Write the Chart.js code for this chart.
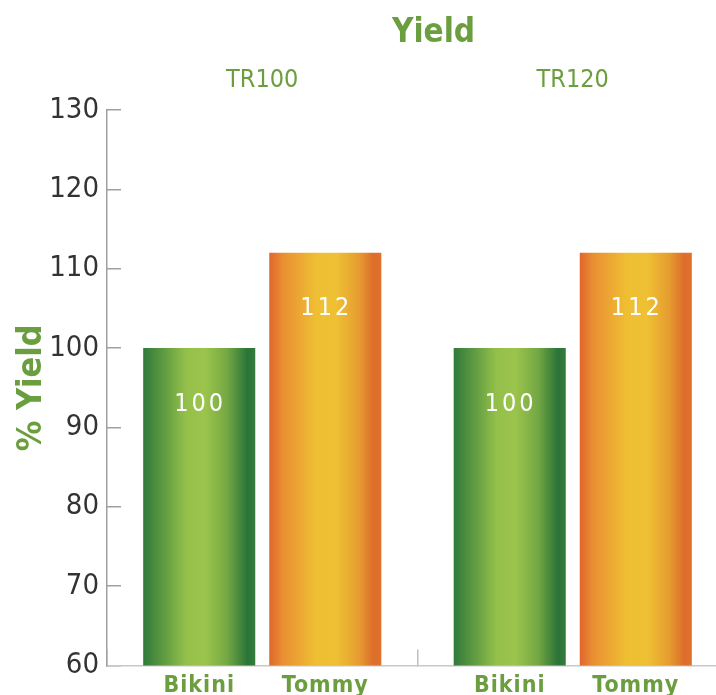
<!DOCTYPE html>
<html>
<head>
<meta charset="utf-8">
<title>Yield</title>
<script src="https://cdn.jsdelivr.net/npm/chart.js@4.4.0/dist/chart.umd.min.js"></script>
<style>
  html, body { margin: 0; padding: 0; background: #fff; overflow: hidden; }
  .wrap { position: relative; width: 740px; height: 705px; }
</style>
</head>
<body>
<div class="wrap"><canvas id="yieldChart"></canvas></div>
<script>
// ---- data ----
const groups = ['TR100', 'TR120'];
const varieties = ['Bikini', 'Tommy'];
const bikiniYield = [100, 100];
const tommyYield = [112, 112];
const yMin = 60;
const yMax = 130;
const yStep = 10;

const GREEN_TEXT = '#6b9e3e';
const NARROW = '"Liberation Sans Narrow", "DejaVu Sans Condensed", "Roboto", sans-serif';

const fillStops = {
  Bikini: [[0, '#2f7a3b'], [0.12, '#4f8f3f'], [0.38, '#93c04a'], [0.55, '#9cc44c'], [0.75, '#74a843'], [0.93, '#2b7439'], [1, '#337c3c']],
  Tommy:  [[0, '#e0662c'], [0.12, '#e98f32'], [0.42, '#efbf33'], [0.6, '#eec034'], [0.8, '#e69c30'], [0.93, '#dd6e2b'], [1, '#e0702c']]
};

/* =========================
   PLUGINS
 ========================= */
// horizontal gradient on each bar, built from the bar's own geometry
const barShading = {
  id: 'barShading',
  beforeDatasetsDraw(chart) {
    const ctx = chart.ctx;
    chart.data.datasets.forEach((ds, i) => {
      const meta = chart.getDatasetMeta(i);
      meta.data.forEach(bar => {
        const g = ctx.createLinearGradient(bar.x - bar.width / 2, 0, bar.x + bar.width / 2, 0);
        fillStops[ds.label].forEach(([p, c]) => g.addColorStop(p, c));
        bar.options = Object.assign({}, bar.options, { backgroundColor: g });
      });
    });
  }
};

// chart title, value inside each bar, variety name under it
const barLabels = {
  id: 'barLabels',
  afterDatasetsDraw(chart) {
    const ctx = chart.ctx;
    const area = chart.chartArea;
    ctx.save();
    ctx.textAlign = 'center';
    ctx.textBaseline = 'middle';

    ctx.fillStyle = GREEN_TEXT;
    ctx.font = 'bold 33px ' + NARROW;
    ctx.fillText('Yield', (area.left + area.right) / 2 + 16, 33);

    chart.data.datasets.forEach((ds, i) => {
      chart.getDatasetMeta(i).data.forEach((bar, j) => {
        ctx.fillStyle = '#ffffff';
        ctx.font = '25px ' + NARROW;
        ctx.letterSpacing = '3px';
        ctx.fillText(String(ds.data[j]), bar.x + 1, bar.y + 56);

        ctx.fillStyle = GREEN_TEXT;
        ctx.font = 'bold 23px ' + NARROW;
        ctx.letterSpacing = '1px';
        ctx.fillText(ds.label, bar.x, area.bottom + 20);
      });
    });
    ctx.restore();
  }
};

/* =========================
   CHART
 ========================= */
const ctx = document.getElementById('yieldChart').getContext('2d');

new Chart(ctx, {
  type: 'bar',
  data: {
    labels: groups,
    datasets: [
      { label: varieties[0], data: bikiniYield, backgroundColor: '#7fb244' },
      { label: varieties[1], data: tommyYield, backgroundColor: '#ecaa32' }
    ]
  },
  options: {
    responsive: true,
    maintainAspectRatio: false,
    animation: false,
    categoryPercentage: 0.812,
    barPercentage: 0.889,
    layout: { padding: { left: 0, right: 12, top: 65, bottom: 0 } },
    plugins: {
      legend: { display: false },
      tooltip: { enabled: false },
      title: { display: false }
    },
    scales: {
      x: {
        type: 'category',
        position: 'bottom',
        ticks: { display: false },
        border: { display: true, color: '#c8c8c8', width: 1.5 },
        grid: { display: true, offset: true, drawOnChartArea: false, tickLength: -16, color: '#c0c0c0', lineWidth: 1.5 },
        afterFit: s => { s.height = 20; }
      },
      x2: {
        type: 'category',
        position: 'top',
        labels: groups,
        offset: true,
        grid: { display: false, drawTicks: false },
        border: { display: false },
        ticks: { color: GREEN_TEXT, font: { family: NARROW, size: 25 }, padding: 15 },
        afterFit: s => { s.height = 45; }
      },
      y: {
        min: yMin,
        max: yMax,
        ticks: { stepSize: yStep, color: '#333', font: { family: NARROW, size: 29 }, padding: 22 },
        border: { display: true, color: '#a0a0a0', width: 1.5 },
        grid: { drawOnChartArea: false, tickLength: -14, color: '#a0a0a0', lineWidth: 1.5 },
        title: {
          display: true,
          text: '% Yield',
          color: GREEN_TEXT,
          font: { family: NARROW, size: 34, weight: 'bold' },
          padding: { top: 12, bottom: 0 }
        },
        afterFit: s => { s.width = 107; }
      }
    }
  },
  plugins: [barShading, barLabels]
});
</script>
</body>
</html>
